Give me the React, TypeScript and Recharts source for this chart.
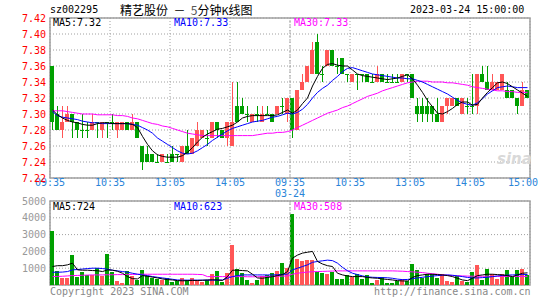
import React from "react";
import {
  Bar,
  CartesianGrid,
  ComposedChart,
  Line,
  ReferenceArea,
  ReferenceLine,
  XAxis,
  YAxis,
} from "recharts";

const RED = "#ff5656";
const GREEN = "#00a000";
const GRID = "#a0a0a0";
const MONO = "'DejaVu Sans Mono', monospace";

const tickPos = [0, 12, 24, 36, 48, 60, 72, 84, 96];
const tickLabels = ["09:35", "10:35", "13:05", "14:05", "09:35", "10:35", "13:05", "14:05", "15:00"];
const dayLabel = "03-24";
const priceTicks = [7.22, 7.24, 7.26, 7.28, 7.3, 7.32, 7.34, 7.36, 7.38, 7.4, 7.42];
const volTicks = [1000, 2000, 3000, 4000, 5000];

const opens = [
  7.36, 7.3, 7.28, 7.29, 7.3, 7.29, 7.28, 7.28, 7.28, 7.29, 7.28, 7.29,
  7.29, 7.28, 7.28, 7.29, 7.28, 7.29, 7.26, 7.25, 7.25, 7.24, 7.24, 7.24,
  7.25, 7.25, 7.24, 7.26, 7.25, 7.26, 7.27, 7.27, 7.27, 7.29, 7.28, 7.27,
  7.26, 7.31, 7.31, 7.3, 7.29, 7.3, 7.29, 7.3, 7.3, 7.3, 7.31, 7.3,
  7.32, 7.28, 7.33, 7.34, 7.35, 7.39, 7.35, 7.36, 7.38, 7.36, 7.37, 7.35,
  7.34, 7.35, 7.35, 7.35, 7.34, 7.34, 7.35, 7.34, 7.34, 7.34, 7.34, 7.35,
  7.35, 7.31, 7.31, 7.31, 7.31, 7.3, 7.29, 7.31, 7.31, 7.32, 7.3, 7.31,
  7.31, 7.31, 7.35, 7.34, 7.33, 7.33, 7.33, 7.33, 7.33, 7.32, 7.31, 7.33,
];
const highs = [
  7.36, 7.31, 7.31, 7.31, 7.3, 7.29, 7.3, 7.29, 7.3, 7.29, 7.29, 7.29,
  7.3, 7.29, 7.29, 7.29, 7.3, 7.29, 7.26, 7.26, 7.25, 7.25, 7.25, 7.25,
  7.26, 7.25, 7.26, 7.28, 7.27, 7.29, 7.28, 7.28, 7.29, 7.29, 7.28, 7.29,
  7.34, 7.34, 7.32, 7.31, 7.3, 7.31, 7.31, 7.31, 7.3, 7.31, 7.32, 7.32,
  7.32, 7.33, 7.35, 7.36, 7.39, 7.4, 7.36, 7.38, 7.38, 7.37, 7.37, 7.35,
  7.35, 7.35, 7.35, 7.35, 7.35, 7.36, 7.35, 7.35, 7.35, 7.35, 7.35, 7.35,
  7.35, 7.32, 7.32, 7.32, 7.31, 7.32, 7.31, 7.32, 7.32, 7.32, 7.32, 7.32,
  7.35, 7.35, 7.36, 7.36, 7.35, 7.34, 7.35, 7.34, 7.33, 7.32, 7.34, 7.33,
];
const lows = [
  7.28, 7.28, 7.27, 7.29, 7.27, 7.27, 7.27, 7.27, 7.28, 7.27, 7.27, 7.27,
  7.28, 7.27, 7.28, 7.28, 7.28, 7.27, 7.23, 7.24, 7.24, 7.24, 7.24, 7.24,
  7.24, 7.24, 7.24, 7.25, 7.25, 7.26, 7.27, 7.26, 7.27, 7.27, 7.27, 7.26,
  7.26, 7.29, 7.3, 7.29, 7.29, 7.29, 7.29, 7.3, 7.29, 7.3, 7.3, 7.29,
  7.27, 7.28, 7.33, 7.34, 7.35, 7.35, 7.34, 7.36, 7.36, 7.35, 7.35, 7.34,
  7.34, 7.33, 7.34, 7.34, 7.34, 7.34, 7.34, 7.34, 7.34, 7.34, 7.34, 7.34,
  7.32, 7.29, 7.29, 7.29, 7.29, 7.29, 7.29, 7.3, 7.31, 7.31, 7.3, 7.3,
  7.3, 7.3, 7.34, 7.33, 7.33, 7.33, 7.33, 7.32, 7.32, 7.3, 7.31, 7.32,
];
const closes = [
  7.29, 7.28, 7.29, 7.3, 7.29, 7.28, 7.28, 7.28, 7.29, 7.29, 7.29, 7.29,
  7.29, 7.29, 7.29, 7.28, 7.29, 7.27, 7.24, 7.24, 7.24, 7.24, 7.25, 7.24,
  7.24, 7.25, 7.26, 7.25, 7.27, 7.28, 7.28, 7.27, 7.29, 7.28, 7.27, 7.29,
  7.29, 7.29, 7.3, 7.3, 7.3, 7.3, 7.3, 7.3, 7.29, 7.31, 7.31, 7.32,
  7.28, 7.33, 7.34, 7.36, 7.38, 7.35, 7.35, 7.38, 7.36, 7.36, 7.35, 7.35,
  7.35, 7.35, 7.35, 7.34, 7.34, 7.35, 7.34, 7.34, 7.34, 7.34, 7.35, 7.35,
  7.32, 7.3, 7.3, 7.3, 7.3, 7.29, 7.31, 7.32, 7.32, 7.31, 7.32, 7.31,
  7.31, 7.35, 7.34, 7.33, 7.34, 7.34, 7.35, 7.32, 7.32, 7.31, 7.33, 7.32,
];

const ma5 = [
  7.305, 7.299, 7.295, 7.292, 7.29, 7.289, 7.287, 7.286, 7.286, 7.288, 7.289, 7.289,
  7.288, 7.288, 7.288, 7.288, 7.287, 7.283, 7.272, 7.262, 7.254, 7.249, 7.247, 7.246,
  7.246, 7.246, 7.248, 7.252, 7.258, 7.265, 7.271, 7.275, 7.278, 7.281, 7.282, 7.284,
  7.286, 7.29, 7.295, 7.297, 7.298, 7.298, 7.298, 7.298, 7.298, 7.299, 7.302, 7.305,
  7.301, 7.305, 7.313, 7.32, 7.335, 7.347, 7.357, 7.362, 7.363, 7.361, 7.36, 7.36,
  7.355, 7.35, 7.348, 7.347, 7.346, 7.345, 7.344, 7.343, 7.344, 7.345, 7.347, 7.349,
  7.344, 7.336, 7.327, 7.317, 7.309, 7.301, 7.3, 7.303, 7.307, 7.312, 7.315, 7.315,
  7.311, 7.312, 7.32, 7.327, 7.333, 7.339, 7.34, 7.338, 7.334, 7.33, 7.326, 7.322,
];
const ma10 = [
  7.303, 7.298, 7.296, 7.295, 7.294, 7.293, 7.291, 7.29, 7.289, 7.289, 7.288, 7.288,
  7.288, 7.288, 7.288, 7.288, 7.287, 7.286, 7.283, 7.28, 7.276, 7.27, 7.266, 7.262,
  7.258, 7.254, 7.251, 7.25, 7.251, 7.254, 7.258, 7.262, 7.267, 7.271, 7.275, 7.279,
  7.282, 7.284, 7.286, 7.288, 7.29, 7.291, 7.292, 7.294, 7.296, 7.297, 7.299, 7.301,
  7.3, 7.302, 7.306, 7.312, 7.32, 7.327, 7.332, 7.336, 7.342, 7.347, 7.353, 7.357,
  7.358, 7.356, 7.354, 7.352, 7.35, 7.349, 7.348, 7.347, 7.346, 7.345, 7.345, 7.344,
  7.344, 7.342, 7.34, 7.337, 7.334, 7.331, 7.328, 7.325, 7.321, 7.317, 7.314, 7.312,
  7.311, 7.314, 7.319, 7.325, 7.329, 7.333, 7.334, 7.335, 7.334, 7.333, 7.333, 7.333,
];
const ma30 = [
  7.304, 7.304, 7.304, 7.303, 7.302, 7.301, 7.3, 7.3, 7.3, 7.299, 7.299, 7.299,
  7.299, 7.298, 7.298, 7.297, 7.295, 7.294, 7.292, 7.29, 7.288, 7.287, 7.285, 7.284,
  7.282, 7.28, 7.278, 7.276, 7.275, 7.274, 7.273, 7.273, 7.273, 7.273, 7.273, 7.273,
  7.273, 7.273, 7.273, 7.273, 7.273, 7.274, 7.275, 7.276, 7.276, 7.277, 7.277, 7.278,
  7.28, 7.283, 7.286, 7.289, 7.292, 7.295, 7.298, 7.301, 7.303, 7.305, 7.308, 7.31,
  7.313, 7.316, 7.319, 7.322, 7.324, 7.326, 7.329, 7.331, 7.333, 7.335, 7.337, 7.339,
  7.34, 7.341, 7.341, 7.341, 7.34, 7.34, 7.34, 7.339, 7.339, 7.338, 7.337, 7.336,
  7.334, 7.333, 7.332, 7.331, 7.33, 7.329, 7.329, 7.328, 7.328, 7.327, 7.327, 7.327,
];

const volumes = [
  3200, 840, 440, 440, 1800, 500, 760, 600, 600, 1000, 540, 1860,
  800, 240, 140, 840, 540, 300, 880, 520, 400, 360, 300, 400,
  200, 240, 440, 280, 440, 300, 160, 300, 660, 840, 200, 740,
  2400, 960, 700, 300, 140, 300, 540, 600, 740, 840, 1280, 1000,
  4250, 1560, 1440, 1500, 1500, 800, 720, 660, 800, 360, 360, 600,
  500, 680, 360, 600, 140, 300, 480, 140, 140, 240, 360, 240,
  1260, 880, 440, 680, 680, 440, 640, 240, 200, 540, 240, 160,
  800, 1200, 300, 960, 640, 360, 640, 900, 500, 900, 960, 600,
];
const volMa5 = [
  1100, 1150, 1150, 1200, 1300, 900, 880, 880, 860, 850, 800, 900,
  880, 820, 700, 500, 380, 360, 560, 520, 470, 420, 360, 320,
  300, 260, 250, 260, 270, 270, 280, 300, 310, 300, 270, 500,
  880, 880, 860, 840, 640, 420, 400, 450, 500, 560, 620, 800,
  1600, 1780, 1900, 1950, 2000, 1400, 1250, 1150, 1100, 700, 600, 540,
  500, 500, 500, 450, 420, 400, 360, 330, 300, 260, 240, 240,
  450, 560, 600, 640, 640, 620, 600, 560, 500, 400, 300, 260,
  400, 560, 600, 640, 640, 620, 600, 560, 500, 600, 700, 724,
];
const volMa10 = [
  760, 760, 770, 800, 900, 920, 950, 980, 1000, 1000, 980, 940,
  880, 840, 800, 760, 700, 640, 600, 560, 500, 460, 420, 380,
  340, 300, 290, 290, 290, 290, 290, 290, 290, 290, 300, 400,
  500, 560, 600, 600, 600, 600, 600, 600, 600, 610, 630, 650,
  900, 1000, 1100, 1200, 1350, 1400, 1440, 1480, 1450, 1300, 1050, 850,
  700, 620, 540, 480, 460, 450, 440, 430, 400, 350, 320, 330,
  380, 420, 460, 500, 530, 560, 580, 600, 580, 540, 500, 450,
  420, 420, 440, 460, 500, 540, 570, 590, 600, 610, 620, 623,
];
const volMa30 = [
  500, 510, 520, 540, 560, 570, 580, 590, 600, 600, 600, 610,
  610, 620, 620, 630, 630, 640, 640, 640, 640, 640, 640, 640,
  640, 640, 640, 640, 640, 630, 620, 500, 500, 500, 500, 500,
  500, 500, 500, 490, 490, 490, 500, 500, 510, 520, 530, 540,
  640, 700, 740, 770, 790, 800, 810, 820, 830, 840, 840, 840,
  840, 840, 840, 840, 840, 840, 840, 840, 840, 830, 820, 800,
  780, 760, 740, 700, 670, 640, 600, 580, 560, 550, 540, 530,
  525, 520, 520, 520, 515, 515, 512, 510, 510, 508, 508, 508,
];

// one row per 5-minute bar, x sits in the middle of its slot
const rows = closes.map((c, i) => ({
  x: i + 0.5,
  open: opens[i],
  high: highs[i],
  low: lows[i],
  close: c,
  range: [lows[i], highs[i]],
  up: c > opens[i],
  ma5: ma5[i],
  ma10: ma10[i],
  ma30: ma30[i],
  vol: volumes[i],
  vma5: volMa5[i],
  vma10: volMa10[i],
  vma30: volMa30[i],
}));

function Candle(props: any) {
  const { x, y, width, height, payload } = props;
  if (x == null || payload == null) return null;
  const left = Math.floor(x + width / 2 - 2);
  const top = Math.min(y, y + height);
  const span = Math.abs(height);
  const range = payload.high - payload.low;
  const yOf = (p: number) => (range > 0 ? top + ((payload.high - p) / range) * span : top);
  const color = payload.up ? RED : GREEN;
  const yo = yOf(payload.open);
  const yc = yOf(payload.close);
  return (
    <g shapeRendering="crispEdges">
      <rect x={left + 2} y={Math.round(top)} width={1} height={Math.max(1, Math.round(span))} fill={color} />
      <rect
        x={left}
        y={Math.round(Math.min(yo, yc))}
        width={4}
        height={Math.max(1, Math.round(Math.abs(yo - yc)))}
        fill={color}
      />
    </g>
  );
}

function VolBar(props: any) {
  const { x, y, width, height, payload } = props;
  if (x == null || payload == null) return null;
  const left = Math.floor(x + width / 2 - 2);
  return (
    <rect
      x={left}
      y={Math.round(y)}
      width={4}
      height={Math.round(height)}
      fill={payload.up ? RED : GREEN}
      shapeRendering="crispEdges"
    />
  );
}

function TimeTick(props: any) {
  const { x, y, payload } = props;
  const i = tickPos.indexOf(payload.value);
  const last = i === tickPos.length - 1;
  const tx = last ? x + 8 : x;
  return (
    <text x={tx} y={y} fill="#2a84d8" fontSize={10} fontFamily={MONO} textAnchor={last ? "end" : "middle"}>
      <tspan x={tx} dy="0.71em">{tickLabels[i]}</tspan>
      {i === 4 && <tspan x={tx} dy="1.05em">{dayLabel}</tspan>}
    </text>
  );
}

const label = (left: number, top: number, color: string, text: string) => (
  <div
    style={{
      position: "absolute",
      left,
      top,
      color,
      fontFamily: MONO,
      fontSize: 10,
      lineHeight: "12px",
      whiteSpace: "pre",
    }}
  >
    {text}
  </div>
);

export default function App() {
  return (
    <div style={{ position: "relative", width: 545, height: 300, background: "#fff", overflow: "hidden" }}>
      <style>{"body{margin:0}"}</style>

      {label(50, 4, "#000", "sz002295")}
      <div
        style={{
          position: "absolute",
          left: 120,
          top: 2,
          fontFamily: "'Noto Sans CJK SC', sans-serif",
          fontSize: 12,
          lineHeight: "16px",
          color: "#000",
          whiteSpace: "pre",
        }}
      >
        精艺股份  －  <span style={{ color: "#555" }}>5</span>分钟<span style={{ fontSize: 11 }}>K</span>线图
      </div>
      {label(410, 4, "#000", "2023-03-24 15:00:00")}

      <div style={{ position: "absolute", left: 0, top: 0 }}>
        <ComposedChart width={545} height={200} data={rows} margin={{ top: 18, right: 15, bottom: 0, left: 0 }}>
          <CartesianGrid stroke={GRID} strokeDasharray="1 2" />
          <XAxis
            dataKey="x"
            type="number"
            domain={[0, 96]}
            ticks={tickPos}
            tick={<TimeTick />}
            tickLine={false}
            axisLine={false}
            tickSize={0}
            tickMargin={1}
            height={22}
            interval={0}
          />
          <YAxis
            domain={[7.22, 7.42]}
            ticks={priceTicks}
            allowDataOverflow
            tickFormatter={(v: number) => v.toFixed(2)}
            tick={{ fill: "#ff0000", fontSize: 10, fontFamily: MONO }}
            tickLine={false}
            axisLine={false}
            tickSize={4}
            tickMargin={0}
            width={50}
            interval={0}
          />
          <ReferenceLine x={48} stroke="#b0b0b0" strokeDasharray="3 2" />
          <ReferenceArea x1={0} x2={96} y1={7.22} y2={7.42} fill="none" stroke={GRID} strokeWidth={1.5} />
          <Bar dataKey="range" barSize={4} shape={<Candle />} isAnimationActive={false} />
          <Line dataKey="ma30" stroke="#ff00ff" dot={false} strokeWidth={1} isAnimationActive={false} />
          <Line dataKey="ma10" stroke="#0000ff" dot={false} strokeWidth={1} isAnimationActive={false} />
          <Line dataKey="ma5" stroke="#000000" dot={false} strokeWidth={1} isAnimationActive={false} />
        </ComposedChart>
      </div>

      <div style={{ position: "absolute", left: 0, top: 190 }}>
        <ComposedChart width={545} height={110} data={rows} margin={{ top: 11, right: 15, bottom: 15, left: 0 }}>
          <CartesianGrid stroke={GRID} strokeDasharray="1 2" />
          <XAxis dataKey="x" type="number" domain={[0, 96]} ticks={tickPos} hide />
          <YAxis
            domain={[0, 5000]}
            ticks={volTicks}
            allowDataOverflow
            tick={{ fill: "#999999", fontSize: 10, fontFamily: MONO }}
            tickLine={false}
            axisLine={false}
            tickSize={4}
            tickMargin={0}
            width={50}
            interval={0}
          />
          <ReferenceLine x={48} stroke="#b0b0b0" strokeDasharray="3 2" />
          <ReferenceArea x1={0} x2={96} y1={0} y2={5000} fill="none" stroke={GRID} strokeWidth={1.5} />
          <Bar dataKey="vol" barSize={4} shape={<VolBar />} isAnimationActive={false} />
          <Line dataKey="vma30" stroke="#ff00ff" dot={false} strokeWidth={1} isAnimationActive={false} />
          <Line dataKey="vma10" stroke="#0000ff" dot={false} strokeWidth={1} isAnimationActive={false} />
          <Line dataKey="vma5" stroke="#000000" dot={false} strokeWidth={1} isAnimationActive={false} />
        </ComposedChart>
      </div>

      {label(53, 17, "#000", "MA5:7.32")}
      {label(174, 17, "#0000ff", "MA10:7.33")}
      {label(294, 17, "#ff00ff", "MA30:7.33")}
      {label(53, 201, "#000", "MA5:724")}
      {label(174, 201, "#0000ff", "MA10:623")}
      {label(294, 201, "#ff00ff", "MA30:508")}

      <div
        style={{
          position: "absolute",
          left: 497,
          top: 150,
          fontFamily: "'DejaVu Sans', sans-serif",
          fontSize: 15,
          fontWeight: "bold",
          fontStyle: "italic",
          color: "#d9d9d9",
          lineHeight: "18px",
        }}
      >
        sina
      </div>

      {label(50, 286, "#888888", "Copyright 2023 SINA.COM")}
      {label(374, 286, "#888888", "http://finance.sina.com.cn")}
    </div>
  );
}
